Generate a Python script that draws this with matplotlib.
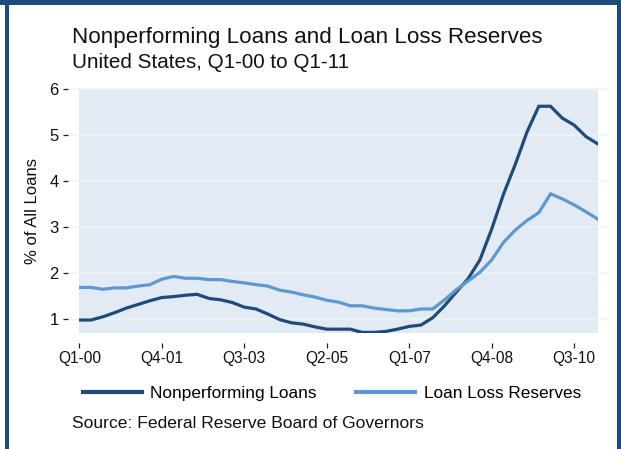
import matplotlib
matplotlib.use("Agg")
import matplotlib.pyplot as plt
from matplotlib.patches import Rectangle
from matplotlib.lines import Line2D
import matplotlib.transforms as mtransforms

plt.rcParams['font.family'] = ['Liberation Sans', 'DejaVu Sans']

# Quarterly data, Q1-00 .. Q1-11 (45 quarters)
quarters = [f"Q{q}-{y:02d}" for y in range(0, 12) for q in range(1, 5)][:45]
nonperforming = [0.97, 0.97, 1.04, 1.13, 1.23, 1.31, 1.39, 1.46, 1.48, 1.51,
                 1.53, 1.44, 1.41, 1.35, 1.25, 1.21, 1.10, 0.98, 0.91, 0.88,
                 0.82, 0.77, 0.77, 0.77, 0.70, 0.70, 0.72, 0.77, 0.83, 0.86,
                 1.02, 1.28, 1.58, 1.87, 2.28, 2.95, 3.71, 4.36, 5.07, 5.63,
                 5.63, 5.37, 5.22, 4.97, 4.81]
reserves = [1.68, 1.68, 1.64, 1.67, 1.67, 1.71, 1.74, 1.86, 1.92, 1.88,
            1.88, 1.85, 1.85, 1.81, 1.78, 1.74, 1.71, 1.62, 1.58, 1.52,
            1.47, 1.40, 1.36, 1.28, 1.28, 1.23, 1.20, 1.17, 1.17, 1.21,
            1.21, 1.41, 1.63, 1.82, 2.01, 2.28, 2.66, 2.93, 3.14, 3.31,
            3.72, 3.61, 3.48, 3.33, 3.17]
tick_labels = ["Q1-00", "Q4-01", "Q3-03", "Q2-05", "Q1-07", "Q4-08", "Q3-10"]
y_ticks = [1, 2, 3, 4, 5, 6]

DARK = "#1F4B7B"
LIGHT = "#5D98D0"
FRAME = "#1E4A7C"
BG = "#E2EAF3"
GRID = "#EDF4F5"
TXT = "#111111"

W, H = 621, 449
fig = plt.figure(figsize=(W / 100, H / 100), dpi=100)
fig.patch.set_facecolor("white")

def fx(px):
    return px / W

def fy(py):
    return 1 - py / H

left, right, top, bottom = 79.3, 597.7, 89.3, 333.3
ax = fig.add_axes([fx(left), fy(bottom), fx(right) - fx(left), fy(top) - fy(bottom)])
ax.set_facecolor(BG)
ax.set_xlim(0, 44)
ax.set_ylim(0.68, 6.0)

# Horizontal grid lines reaching slightly past the plot region
trans = mtransforms.blended_transform_factory(fig.transFigure, ax.transData)
for yv in y_ticks:
    ax.add_line(Line2D([fx(69), fx(607)], [yv, yv], transform=trans,
                       color=GRID, lw=1.1, clip_on=False, zorder=1))

x = list(range(len(quarters)))
ax.plot(x, nonperforming, color=DARK, lw=2.3, solid_joinstyle="miter",
        label="Nonperforming Loans", zorder=3)
ax.plot(x, reserves, color=LIGHT, lw=2.3, solid_joinstyle="miter",
        label="Loan Loss Reserves", zorder=3)

for s in ax.spines.values():
    s.set_visible(False)
ax.spines['left'].set_position(('outward', 8))
ax.spines['bottom'].set_position(('outward', 7))

tick_idx = [quarters.index(t) for t in tick_labels]
ax.set_xticks(tick_idx)
ax.set_xticklabels(tick_labels)
ax.set_yticks(y_ticks)
ax.set_yticklabels([str(v) for v in y_ticks])
ax.tick_params(axis='y', length=3.8, width=0.9, color="#222222", pad=3,
               labelsize=12, labelcolor=TXT)
ax.tick_params(axis='x', length=3.8, width=0.9, color="#222222", pad=2,
               labelsize=11.2, labelcolor=TXT)
ax.set_ylabel("% of All Loans", fontsize=12, color=TXT, labelpad=7)

# Titles
fig.text(fx(72), fy(37), "Nonperforming Loans and Loan Loss Reserves",
         fontsize=16.1, color=TXT, va="center", ha="left")
fig.text(fx(72), fy(62), "United States, Q1-00 to Q1-11",
         fontsize=14.9, color=TXT, va="center", ha="left")

# Legend
leg = fig.legend(loc="center", bbox_to_anchor=(fx(332), fy(393)), ncol=2,
                 frameon=False, fontsize=12.4, handlelength=3.4,
                 handletextpad=0.5, columnspacing=2.3)
for h in leg.get_lines():
    h.set_linewidth(3)

fig.text(fx(72), fy(424), "Source: Federal Reserve Board of Governors",
         fontsize=12.6, color=TXT, va="center", ha="left")

# Outer frame (top, left, right)
fig.add_artist(Rectangle((0, fy(4.5)), 1, fy(0) - fy(4.5), transform=fig.transFigure,
                         facecolor=FRAME, edgecolor="none"))
fig.add_artist(Rectangle((fx(5), 0), fx(9) - fx(5), 1, transform=fig.transFigure,
                         facecolor=FRAME, edgecolor="none"))
fig.add_artist(Rectangle((fx(617), 0), fx(621) - fx(617), 1, transform=fig.transFigure,
                         facecolor=FRAME, edgecolor="none"))

fig.savefig("out.png", dpi=100)
